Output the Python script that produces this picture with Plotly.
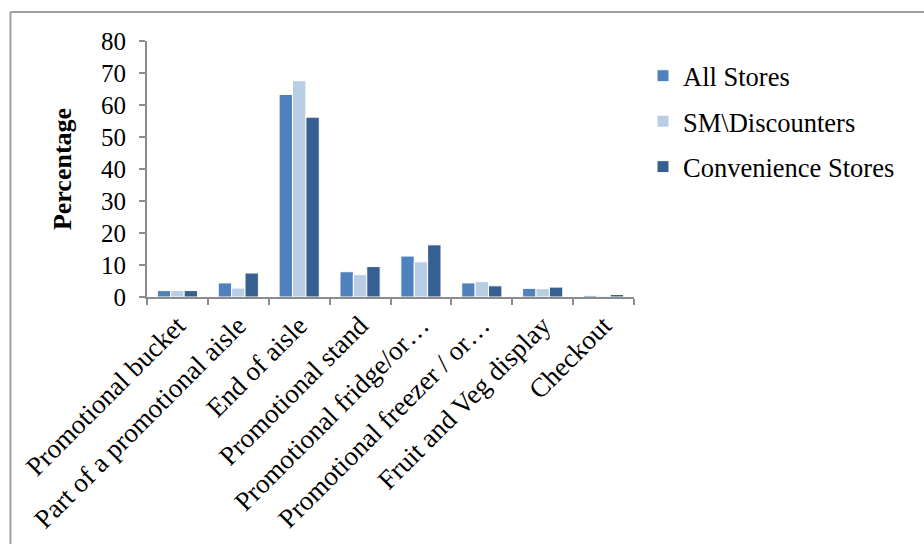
import plotly.graph_objects as go

categories = ["Promotional bucket", "Part of a promotional aisle", "End of aisle",
              "Promotional stand", "Promotional fridge/or…", "Promotional freezer / or…",
              "Fruit and Veg display", "Checkout"]
all_stores = [2.0, 4.4, 63.3, 7.9, 12.8, 4.4, 2.7, 0.5]
sm_discounters = [2.0, 2.8, 67.6, 7.0, 11.0, 4.8, 2.6, 0.3]
convenience = [2.0, 7.5, 56.2, 9.5, 16.3, 3.5, 3.1, 0.8]
series_names = ["All Stores", "SM\\Discounters", "Convenience Stores"]
colors = ["#4F81BD", "#B9CDE5", "#376092"]
y_ticks = [0, 10, 20, 30, 40, 50, 60, 70, 80]

W, H = 924, 544
L, R, T, B = 147, 634, 41, 297

fig = go.Figure()
for name, vals, col in zip(series_names, [all_stores, sm_discounters, convenience], colors):
    fig.add_trace(go.Bar(x=categories, y=vals, name=name, marker_color=col,
                         marker_line=dict(color="white", width=1),
                         legendgroup=name))

font = "Liberation Serif, Times New Roman, serif"
fig.update_layout(
    width=W, height=H,
    margin=dict(l=L, r=W - R, t=T, b=H - B, pad=0, autoexpand=False),
    paper_bgcolor="white", plot_bgcolor="white",
    barmode="group", bargap=0.34, bargroupgap=0,
    font=dict(family=font, size=24, color="black"),
    showlegend=True,
    legend=dict(x=(643 - L) / (R - L), y=(B - 52) / (B - T), xanchor="left", yanchor="top",
                font=dict(size=26.5, family=font), traceorder="grouped", tracegroupgap=8,
                itemwidth=30, bgcolor="rgba(0,0,0,0)"),
    xaxis=dict(type="category", tickangle=-45, tickson="boundaries", ticks="outside",
               ticklen=6, tickcolor="#8c8c8c", tickwidth=2, showline=True, linecolor="#8c8c8c",
               linewidth=2, showgrid=False, tickfont=dict(size=27, family=font), automargin=False),
    yaxis=dict(range=[0, 80], tickvals=y_ticks, ticks="outside", ticklen=6,
               tickcolor="#8c8c8c", tickwidth=2, showline=True, linecolor="#8c8c8c",
               linewidth=2, showgrid=False, zeroline=False, tickfont=dict(size=25, family=font),
               ticklabelstandoff=8, automargin=False,
               title=dict(text="<b>Percentage</b>", font=dict(size=26, family=font), standoff=22)),
)

# chart border (left and top edges)
def px_x(p):
    return (p - L) / (R - L)
def px_y(p):
    return (B - p) / (B - T)

fig.add_shape(type="line", xref="paper", yref="paper", x0=px_x(10.5), x1=px_x(10.5),
              y0=px_y(12), y1=px_y(560), line=dict(color="#a0a0a0", width=2))
fig.add_shape(type="line", xref="paper", yref="paper", x0=px_x(10.5), x1=px_x(930),
              y0=px_y(12), y1=px_y(12), line=dict(color="#a0a0a0", width=2))

fig.write_html("out.html")
